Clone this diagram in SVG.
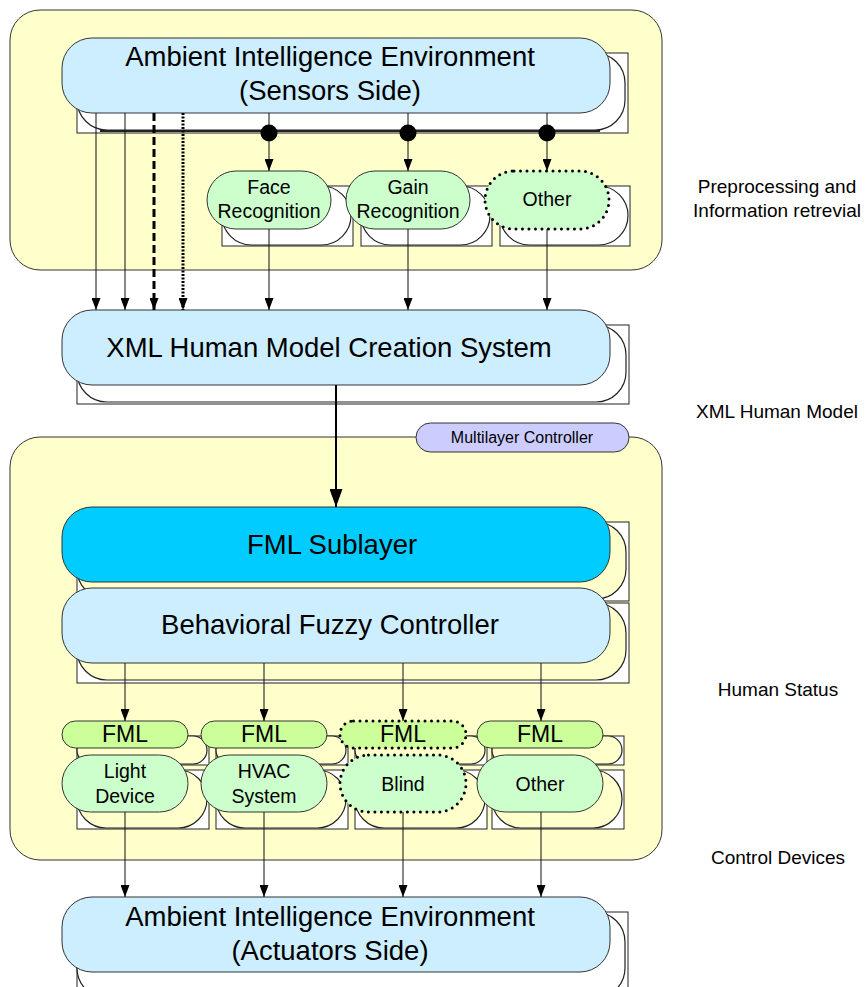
<svg xmlns="http://www.w3.org/2000/svg" width="865" height="987" viewBox="0 0 865 987">
  <defs>
    <marker id="arr" viewBox="0 0 12 9" refX="12" refY="4.5" markerWidth="12" markerHeight="9" markerUnits="userSpaceOnUse" orient="auto">
      <path d="M0,0 L12,4.5 L0,9 z" fill="#000"/>
    </marker>
    <marker id="arrBig" viewBox="0 0 18 13" refX="18" refY="6.5" markerWidth="18" markerHeight="13" markerUnits="userSpaceOnUse" orient="auto">
      <path d="M0,0 L18,6.5 L0,13 z" fill="#000"/>
    </marker>
  </defs>
  <style>
    text { font-family: "Liberation Sans", Arial, sans-serif; fill: #000; text-anchor: middle; }
    .big { font-size: 27.5px; }
    .mid { font-size: 19.5px; }
    .pill { font-size: 23px; }
    .side { font-size: 19px; }
    .ctl { font-size: 16px; }
    .zone { fill: #ffffcc; stroke: #333; stroke-width: 1; }
    .blue { fill: #cceeff; stroke: #333; stroke-width: 1; }
    .cyan { fill: #00ccff; stroke: #333; stroke-width: 1; }
    .green { fill: #ccffcc; stroke: #333; stroke-width: 1; }
    .green-bare { fill: #ccffcc; stroke: none; }
    .lime { fill: #ccff99; stroke: #333; stroke-width: 1; }
    .lime-bare { fill: #ccff99; stroke: none; }
    .violet { fill: #ccccff; stroke: #333; stroke-width: 1; }
    .dotted { fill: none; stroke: #000; stroke-width: 3; stroke-dasharray: 0 6.5; stroke-linecap: round; }
    .sh-rect { fill: #fff; stroke: #222; stroke-width: 1; }
    .sh-w { fill: #fff; stroke: #222; stroke-width: 1.2; }
    .sh-y { fill: #ffffcc; stroke: #222; stroke-width: 1.2; }
    .wire { stroke: #111; stroke-width: 1; fill: none; }
    .bus { stroke: #222; stroke-width: 2; fill: none; }
    .dash { stroke: #000; stroke-width: 3; stroke-dasharray: 8 4; fill: none; }
    .dots { stroke: #000; stroke-width: 3; stroke-dasharray: 2 1.5; fill: none; }
    .heavy { stroke: #000; stroke-width: 2; fill: none; }
  </style>

  <rect width="865" height="987" fill="#fff"/>

  <!-- layer backgrounds -->
  <g id="zone-top"><rect class="zone" x="10" y="10" width="652" height="260" rx="30"/></g>
  <g id="zone-bottom"><rect class="zone" x="10" y="437" width="652" height="423" rx="30"/></g>

  <!-- sensors side -->
  <g id="sensors">
    <rect class="sh-rect" x="77" y="53" width="551" height="80"/>
    <rect class="sh-w" x="77" y="53" width="548" height="77" rx="30"/>
    <rect class="blue" x="62" y="38" width="548" height="75" rx="30"/>
    <text class="big" x="330" y="66">Ambient Intelligence Environment</text>
    <text class="big" x="330" y="100">(Sensors Side)</text>
  </g>

  <g id="face">
    <rect class="sh-rect" x="222" y="186" width="131" height="60"/>
    <rect class="sh-w" x="222" y="186" width="129" height="59" rx="29.5"/>
    <rect class="green" x="207" y="171" width="124" height="58" rx="29"/>
    <text class="mid" x="269" y="194">Face</text>
    <text class="mid" x="269" y="218">Recognition</text>
  </g>

  <g id="gain">
    <rect class="sh-rect" x="361" y="186" width="131" height="60"/>
    <rect class="sh-w" x="361" y="186" width="129" height="59" rx="29.5"/>
    <rect class="green" x="346" y="171" width="124" height="58" rx="29"/>
    <text class="mid" x="408" y="194">Gain</text>
    <text class="mid" x="408" y="218">Recognition</text>
  </g>

  <g id="other-sensor">
    <rect class="sh-rect" x="500" y="186" width="130" height="60"/>
    <rect class="sh-w" x="500" y="186" width="128" height="59" rx="29.5"/>
    <rect class="green-bare" x="485" y="171" width="124" height="58" rx="29"/>
    <rect class="dotted" x="485" y="171" width="124" height="58" rx="29"/>
    <text class="mid" x="547" y="206">Other</text>
  </g>

  <!-- human model -->
  <g id="xml-model">
    <rect class="sh-rect" x="77" y="325" width="552" height="79"/>
    <rect class="sh-w" x="77" y="325" width="549" height="77" rx="30"/>
    <rect class="blue" x="62" y="310" width="548" height="75" rx="30"/>
    <text class="big" x="329" y="357">XML Human Model Creation System</text>
  </g>

  <g id="multilayer">
    <rect class="violet" x="416" y="423" width="213" height="29" rx="14.5"/>
    <text class="ctl" x="522" y="443">Multilayer Controller</text>
  </g>

  <g id="fml-sublayer">
    <rect class="sh-rect" x="77" y="522" width="552" height="79"/>
    <rect class="sh-y" x="77" y="522" width="549" height="77" rx="30"/>
    <rect class="cyan" x="62" y="507" width="548" height="75" rx="30"/>
    <text class="big" x="332" y="554">FML Sublayer</text>
  </g>

  <g id="fuzzy-controller">
    <rect class="sh-rect" x="77" y="603" width="552" height="80"/>
    <rect class="sh-y" x="77" y="603" width="549" height="77" rx="30"/>
    <rect class="blue" x="62" y="588" width="548" height="75" rx="30"/>
    <text class="big" x="330" y="634">Behavioral Fuzzy Controller</text>
  </g>

  <!-- FML tags -->
  <g id="fml-1">
    <rect class="sh-rect" x="77" y="736" width="132" height="29"/>
    <rect class="sh-y" x="77" y="736" width="130" height="28" rx="14"/>
    <rect class="lime" x="62" y="721" width="126" height="27" rx="13.5"/>
    <text class="pill" x="125" y="742">FML</text>
  </g>
  <g id="fml-2">
    <rect class="sh-rect" x="216" y="736" width="132" height="29"/>
    <rect class="sh-y" x="216" y="736" width="130" height="28" rx="14"/>
    <rect class="lime" x="201" y="721" width="126" height="27" rx="13.5"/>
    <text class="pill" x="264" y="742">FML</text>
  </g>
  <g id="fml-3">
    <rect class="sh-rect" x="355" y="736" width="132" height="29"/>
    <rect class="sh-y" x="355" y="736" width="130" height="28" rx="14"/>
    <rect class="lime-bare" x="340" y="721" width="126" height="27" rx="13.5"/>
    <rect class="dotted" x="340" y="721" width="126" height="27" rx="13.5"/>
    <text class="pill" x="403" y="742">FML</text>
  </g>
  <g id="fml-4">
    <rect class="sh-rect" x="492" y="736" width="132" height="29"/>
    <rect class="sh-y" x="492" y="736" width="130" height="28" rx="14"/>
    <rect class="lime" x="477" y="721" width="126" height="27" rx="13.5"/>
    <text class="pill" x="540" y="742">FML</text>
  </g>

  <!-- devices -->
  <g id="light">
    <rect class="sh-rect" x="77" y="770" width="132" height="59"/>
    <rect class="sh-y" x="77" y="770" width="130" height="58" rx="29"/>
    <rect class="green" x="62" y="755" width="126" height="57" rx="28.5"/>
    <text class="mid" x="125" y="778">Light</text>
    <text class="mid" x="125" y="803">Device</text>
  </g>
  <g id="hvac">
    <rect class="sh-rect" x="216" y="770" width="132" height="59"/>
    <rect class="sh-y" x="216" y="770" width="130" height="58" rx="29"/>
    <rect class="green" x="201" y="755" width="126" height="57" rx="28.5"/>
    <text class="mid" x="264" y="778">HVAC</text>
    <text class="mid" x="264" y="803">System</text>
  </g>
  <g id="blind">
    <rect class="sh-rect" x="355" y="770" width="132" height="59"/>
    <rect class="sh-y" x="355" y="770" width="130" height="58" rx="29"/>
    <rect class="green-bare" x="340" y="755" width="126" height="57" rx="28.5"/>
    <rect class="dotted" x="340" y="755" width="126" height="57" rx="28.5"/>
    <text class="mid" x="403" y="791">Blind</text>
  </g>
  <g id="other-device">
    <rect class="sh-rect" x="492" y="770" width="132" height="59"/>
    <rect class="sh-y" x="492" y="770" width="130" height="58" rx="29"/>
    <rect class="green" x="477" y="755" width="126" height="57" rx="28.5"/>
    <text class="mid" x="540" y="791">Other</text>
  </g>

  <!-- actuators side -->
  <g id="actuators">
    <rect class="sh-rect" x="77" y="912" width="551" height="90"/>
    <rect class="sh-w" x="77" y="912" width="548" height="86" rx="30"/>
    <rect class="blue" x="62" y="897" width="548" height="75" rx="30"/>
    <text class="big" x="330" y="926">Ambient Intelligence Environment</text>
    <text class="big" x="330" y="960">(Actuators Side)</text>
  </g>

  <!-- connectors -->
  <g id="connectors">
    <line class="bus" x1="100" y1="131" x2="600" y2="131"/>
    <line class="wire" x1="96" y1="113" x2="96" y2="310" marker-end="url(#arr)"/>
    <line class="wire" x1="125" y1="113" x2="125" y2="310" marker-end="url(#arr)"/>
    <line class="dash" x1="154" y1="113" x2="154" y2="310" marker-end="url(#arr)"/>
    <line class="dots" x1="183" y1="113" x2="183" y2="310" marker-end="url(#arr)"/>

    <line class="wire" x1="269" y1="113" x2="269" y2="171" marker-end="url(#arr)"/>
    <line class="wire" x1="408" y1="113" x2="408" y2="171" marker-end="url(#arr)"/>
    <line class="wire" x1="547" y1="113" x2="547" y2="171" marker-end="url(#arr)"/>
    <circle cx="269" cy="133" r="8.5" fill="#000"/>
    <circle cx="408" cy="133" r="8.5" fill="#000"/>
    <circle cx="547" cy="133" r="8.5" fill="#000"/>

    <line class="wire" x1="269" y1="229" x2="269" y2="310" marker-end="url(#arr)"/>
    <line class="wire" x1="408" y1="229" x2="408" y2="310" marker-end="url(#arr)"/>
    <line class="wire" x1="547" y1="229" x2="547" y2="310" marker-end="url(#arr)"/>

    <line class="heavy" x1="336" y1="385" x2="336" y2="507" marker-end="url(#arrBig)"/>

    <line class="wire" x1="125" y1="663" x2="125" y2="721" marker-end="url(#arr)"/>
    <line class="wire" x1="264" y1="663" x2="264" y2="721" marker-end="url(#arr)"/>
    <line class="wire" x1="403" y1="663" x2="403" y2="721" marker-end="url(#arr)"/>
    <line class="wire" x1="541" y1="663" x2="541" y2="721" marker-end="url(#arr)"/>

    <line class="wire" x1="125" y1="812" x2="125" y2="897" marker-end="url(#arr)"/>
    <line class="wire" x1="264" y1="812" x2="264" y2="897" marker-end="url(#arr)"/>
    <line class="wire" x1="403" y1="812" x2="403" y2="897" marker-end="url(#arr)"/>
    <line class="wire" x1="541" y1="812" x2="541" y2="897" marker-end="url(#arr)"/>
  </g>

  <!-- stage captions -->
  <g id="captions">
    <text class="side" x="777" y="193">Preprocessing and</text>
    <text class="side" x="777" y="217">Information retrevial</text>
    <text class="side" x="777" y="418">XML Human Model</text>
    <text class="side" x="778" y="696">Human Status</text>
    <text class="side" x="778" y="864">Control Devices</text>
  </g>
</svg>
